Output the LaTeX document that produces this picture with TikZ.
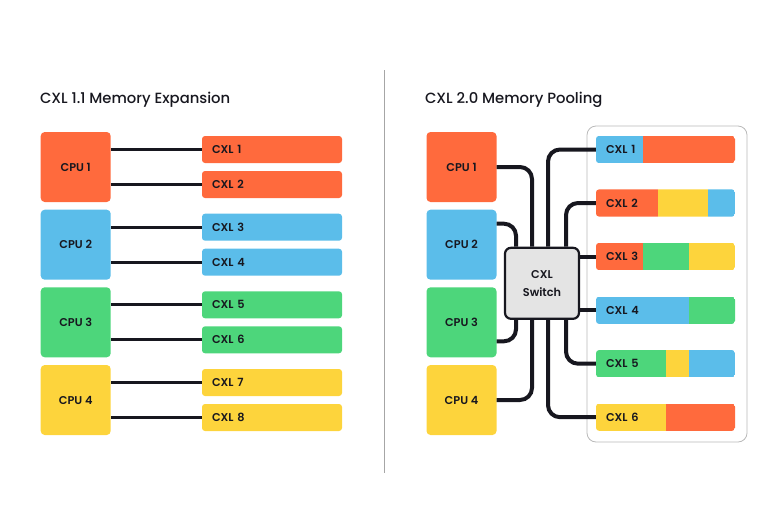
\documentclass[tikz,border=0pt]{standalone}
\usepackage{fontspec}
\setmainfont{Poppins}[UprightFont=*-Medium,BoldFont=*-SemiBold]
\usepackage{tikz}
\usetikzlibrary{positioning}
\definecolor{orangecxl}{HTML}{FF6A3D}
\definecolor{bluecxl}{HTML}{5BBDEA}
\definecolor{greencxl}{HTML}{4DD67B}
\definecolor{yellowcxl}{HTML}{FDD43C}
\definecolor{textcxl}{HTML}{17171F}
\definecolor{switchcxl}{HTML}{E4E4E4}

\begin{document}
\begin{tikzpicture}[x=1pt,y=-1pt,
  titre/.style={anchor=west, text=textcxl, font=\fontsize{14.8}{16}\selectfont},
  cpu/.style={rounded corners=4pt, minimum width=70pt, minimum height=70pt, text=textcxl, font=\bfseries\fontsize{11.3}{12}\selectfont},
  mem/.style={rounded corners=3pt, minimum height=27pt, text width=120pt, inner xsep=10pt, align=left, text=textcxl, font=\bfseries\fontsize{11.3}{12}\selectfont},
  bar/.style={mem, text width=119pt},
  switchbox/.style={draw=textcxl, fill=switchcxl, line width=2.2pt, rounded corners=6pt, minimum width=74pt, minimum height=71pt, align=center, text=textcxl, font=\bfseries\fontsize{11.3}{18}\selectfont},
  wire/.style={line width=3.2pt, textcxl},
  bus/.style={line width=4pt, textcxl, rounded corners=12pt}]
  \useasboundingbox (0,0) rectangle (768,528);

  % Titres des deux schemas
  \node[titre] (t1) at (36.5,100) {CXL 1.1 Memory Expansion};
  \node[titre] (t2) at (421.5,100) {CXL 2.0 Memory Pooling};

  % Trait de separation
  \draw[gray!70, line width=1pt] (384,70) -- (384,473);

  % CPU de gauche
  \foreach \i/\y/\c in {1/167/orangecxl,2/244.7/bluecxl,3/322.3/greencxl,4/400/yellowcxl} {
    \node[cpu, fill=\c] (a\i) at (75.7,\y) {CPU \i};
  }

  % Memoires CXL de gauche
  \foreach \k/\y/\c in {1/149.5/orangecxl,2/184.5/orangecxl,3/227.2/bluecxl,4/262.2/bluecxl,5/304.8/greencxl,6/339.8/greencxl,7/382.5/yellowcxl,8/417.5/yellowcxl} {
    \node[mem, fill=\c] (x\k) at (272,\y) {CXL \k};
  }

  % Liaisons directes
  \foreach \k/\i in {1/1,2/1,3/2,4/2,5/3,6/3,7/4,8/4} {
    \draw[wire] (a\i.east |- x\k.west) -- (x\k.west);
  }

  % CPU de droite
  \foreach \i/\y/\c in {1/167/orangecxl,2/244.7/bluecxl,3/322.3/greencxl,4/400/yellowcxl} {
    \node[cpu, fill=\c] (b\i) at (461.5,\y) {CPU \i};
  }

  % Cadre du pool
  \node[draw=gray!55, line width=0.8pt, rounded corners=9pt, minimum width=160pt, minimum height=316pt] (pool) at (667,284) {};

  % Memoires partagees
  \foreach \k/\y/\p/\cp/\q/\cq/\cr in {1/149.5/642.7/bluecxl/735/orangecxl/orangecxl,
      2/203/658.3/orangecxl/708.3/yellowcxl/bluecxl,
      3/256.5/642.7/orangecxl/689.3/greencxl/yellowcxl,
      4/310.3/689.3/bluecxl/735/greencxl/greencxl,
      5/363.7/665.7/greencxl/689.3/yellowcxl/bluecxl,
      6/417.2/665.7/yellowcxl/735/orangecxl/orangecxl} {
    \begin{scope}
      \clip[rounded corners=3pt] (596,{\y-13.6}) rectangle (735,{\y+13.6});
      \fill[\cp] (596,{\y-13.6}) rectangle (\p,{\y+13.6});
      \fill[\cq] (\p,{\y-13.6}) rectangle (\q,{\y+13.6});
      \fill[\cr] (\q,{\y-13.6}) rectangle (735,{\y+13.6});
    \end{scope}
    \node[bar] (m\k) at (665.5,\y) {CXL \k};
  }

  % Switch
  \node[switchbox] (sw) at (542,283.3) {CXL\\Switch};

  % Liaisons vers le switch
  \draw[bus] (b1.east) -| ([xshift=-10pt]sw.north);
  \draw[bus] ([yshift=21pt]b2.east) -| ([xshift=-26pt]sw.north);
  \draw[bus] ([yshift=-19pt]b3.east) -| ([xshift=-26pt]sw.south);
  \draw[bus] (b4.east) -| ([xshift=-10pt]sw.south);
  \draw[bus] ([xshift=6pt]sw.north) |- (m1.west);
  \draw[bus] ([xshift=24pt]sw.north) |- (m2.west);
  \draw[bus] (sw.east |- m3.west) -- (m3.west);
  \draw[bus] (sw.east |- m4.west) -- (m4.west);
  \draw[bus] ([xshift=24pt]sw.south) |- (m5.west);
  \draw[bus] ([xshift=6pt]sw.south) |- (m6.west);
\end{tikzpicture}
\end{document}
